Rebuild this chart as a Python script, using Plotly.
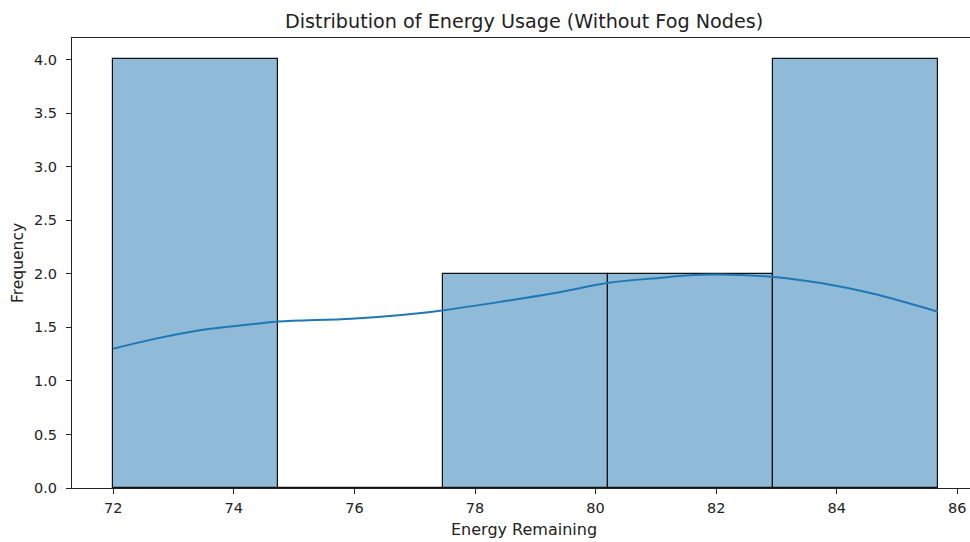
import plotly.graph_objects as go

# Histogram bins (Energy Remaining) and counts
bin_edges = [72.0, 74.737, 77.473, 80.21, 82.946, 85.683]
counts = [4, 0, 2, 2, 4]

# Density curve (scaled to counts) sampled along the x range
kde_x = [72.0, 72.63, 73.46, 74.29, 74.74, 75.95, 76.78, 77.48, 78.45,
         79.28, 80.22, 80.94, 81.77, 82.96, 83.76, 84.59, 85.68]
kde_y = [1.30, 1.385, 1.475, 1.528, 1.553, 1.58, 1.615, 1.66, 1.74,
         1.815, 1.915, 1.955, 1.99, 1.97, 1.91, 1.815, 1.645]

x_ticks = [72, 74, 76, 78, 80, 82, 84, 86]
y_ticks = [0.0, 0.5, 1.0, 1.5, 2.0, 2.5, 3.0, 3.5, 4.0]

centers = [(a + b) / 2 for a, b in zip(bin_edges[:-1], bin_edges[1:])]
widths = [b - a for a, b in zip(bin_edges[:-1], bin_edges[1:])]

FONT = "DejaVu Sans"
INK = "#222222"
TICK_SIZE = 14.5

fig = go.Figure()
fig.add_trace(go.Bar(
    x=centers, y=counts, width=widths,
    marker=dict(color="rgba(31,119,180,0.5)",
                line=dict(color="#111111", width=1.2)),
    hoverinfo="x+y", showlegend=False,
))
fig.add_trace(go.Scatter(
    x=kde_x, y=kde_y, mode="lines",
    line=dict(color="#1f77b4", width=2, shape="spline", smoothing=1.0),
    showlegend=False,
))

axis_common = dict(
    showgrid=False, zeroline=False,
    showline=True, linecolor=INK, linewidth=1.1,
    ticks="outside", ticklen=5, tickwidth=1.1, tickcolor=INK,
    tickfont=dict(family=FONT, size=TICK_SIZE, color=INK),
)

fig.update_layout(
    width=970, height=542,
    margin=dict(l=72, r=0, t=38, b=54),
    paper_bgcolor="white", plot_bgcolor="white",
    font=dict(family=FONT, size=TICK_SIZE, color=INK),
    bargap=0,
    xaxis=dict(
        range=[71.316, 86.21],
        tickvals=x_ticks, ticktext=[str(v) for v in x_ticks],
        mirror=True, ticklabelstandoff=2,
        **axis_common,
    ),
    yaxis=dict(
        range=[0, 4.2],
        tickvals=y_ticks, ticktext=[f"{v:.1f}" for v in y_ticks],
        mirror=False, ticklabelstandoff=6,
        **axis_common,
    ),
    annotations=[
        dict(text="Distribution of Energy Usage (Without Fog Nodes)",
             xref="paper", yref="paper", x=(524 - 72) / 898, y=1.0,
             yshift=17, xanchor="center", yanchor="middle", showarrow=False,
             font=dict(family=FONT, size=19.2, color=INK)),
        dict(text="Energy Remaining",
             xref="paper", yref="paper", x=(524 - 72) / 898, y=0,
             yshift=-41, xanchor="center", yanchor="middle", showarrow=False,
             font=dict(family=FONT, size=16, color=INK)),
        dict(text="Frequency",
             xref="paper", yref="paper", x=0, y=0.5,
             xshift=-54, xanchor="center", yanchor="middle", showarrow=False,
             textangle=-90,
             font=dict(family=FONT, size=15.5, color=INK)),
    ],
)

fig.write_html("out.html")
